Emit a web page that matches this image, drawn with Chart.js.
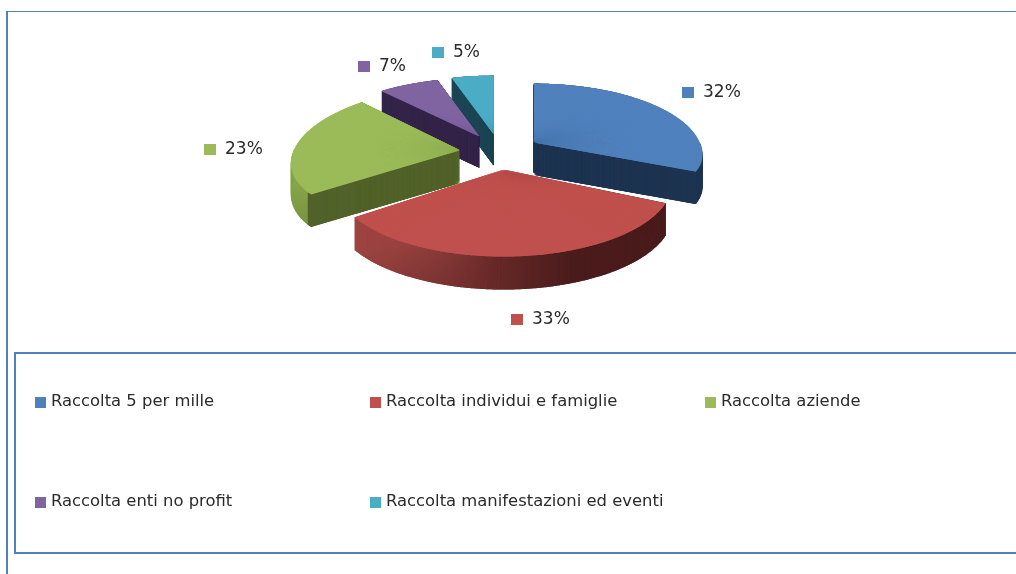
<!DOCTYPE html>
<html>
<head>
<meta charset="utf-8">
<title>Raccolta</title>
<script src="https://cdn.jsdelivr.net/npm/chart.js@4"></script>
<style>
    html, body { margin: 0; padding: 0; background: #fff; overflow: hidden; }
    #wrap { position: relative; width: 1016px; height: 574px; }
    #pie { position: absolute; left: 0; top: 0; }
    .frame { position: absolute; background: #4f81bd; }
</style>
</head>
<body>
<div id="wrap">
    <canvas id="pie" width="1016" height="574"></canvas>
    <div class="frame" style="left:6px;top:11px;width:2px;height:563px"></div>
    <div class="frame" style="left:6px;top:11px;width:1010px;height:1px"></div>
    <div class="frame" style="left:14px;top:352px;width:2px;height:202px"></div>
    <div class="frame" style="left:14px;top:352px;width:1002px;height:2px"></div>
    <div class="frame" style="left:14px;top:552px;width:1002px;height:2px"></div>
</div>
<script>
var categories = ['Raccolta 5 per mille', 'Raccolta individui e famiglie', 'Raccolta aziende', 'Raccolta enti no profit', 'Raccolta manifestazioni ed eventi'];
var values = [32, 33, 23, 7, 5];
var colors = ['#4f81bd', '#c0504d', '#9bbb59', '#8064a2', '#4bacc6'];
var edgeColors = ['#1f3552', '#4b1c1c', '#53632b', '#35264a', '#1c4654'];

//where the percent labels and legend entries sit on the page
var labelSpots = [[682, 92], [511, 319], [204, 149], [358, 66], [432, 52]];
var legendSpots = [[35, 402], [370, 402], [705, 402], [35, 502], [370, 502]];

//fake 3D look
var explode = 40, tilt = 0.44, drawOrder = [4, 3, 2, 0, 1];
var rearSquash = [14, 14, 9.6, 14, 14], frontSquash = [-12, 14, 3.4, 14, 14];
var STEP = Math.PI / 180;

function mix(a, b, t) {
    var out = '#';
    for (var i = 1; i < 7; i += 2) {
        var v = Math.round(parseInt(a.substr(i, 2), 16) * (1 - t) + parseInt(b.substr(i, 2), 16) * t);
        out += ('0' + v.toString(16)).slice(-2);
    }
    return out;
}

//side wall colour, depends on which way the wall faces
function wallColor(i, theta) {
    var s = Math.sin(theta);
    if (i === 1) return mix('#a04643', '#4b1c1c', Math.min(1, (s + 0.85) / 1.2));
    if (i === 2) return mix('#76933e', '#8fae50', Math.min(1, (theta - 4.08) / 0.9));
    return edgeColors[i];
}

function sliceTransform(ctx, el, i, theta, lift) {
    var mid = (el.startAngle + el.endAngle) / 2;
    var c = Math.cos(theta);
    var rx = 166 - 31 * c, ry = 73 - (c > 0 ? rearSquash[i] : frontSquash[i]) * c;
    ctx.translate(el.x + Math.cos(mid) * explode, el.y + Math.sin(mid) * explode * tilt + lift);
    ctx.scale(rx / el.outerRadius, ry / el.outerRadius);
}

function drawWedge(ctx, el, from, to, color) {
    var piece = new Chart.ArcElement({
        x: 0, y: 0, startAngle: from, endAngle: to, circumference: to - from,
        innerRadius: 0, outerRadius: el.outerRadius,
        options: { offset: 0, spacing: 0, circular: true, backgroundColor: color, borderColor: color,
            borderWidth: 0, borderAlign: 'center', borderRadius: 0, borderDash: [], borderDashOffset: 0, borderJoinStyle: 'round' }
    });
    piece.draw(ctx);
}

var pie3d = {
    id: 'pie3d',
    beforeDatasetsDraw: function (chart) {
        var ctx = chart.ctx, arcs = chart.getDatasetMeta(0).data;
        drawOrder.forEach(function (i) {
            var el = arcs[i], n = Math.ceil((el.endAngle - el.startAngle) / STEP);
            var size = (el.endAngle - el.startAngle) / n;
            var wide = Math.min(12 * STEP, el.endAngle - el.startAngle);
            //walls: inside of the wedge first, the two cut edges last
            var order = [];
            for (var k = 1; k < n - 1; k++) order.push(k);
            order.push(n - 1, 0);
            order.forEach(function (k) {
                var from = el.startAngle + k * size, theta = from + size / 2 + Math.PI / 2;
                var isEdge = k === 0 || k === n - 1;
                var col = (isEdge && i !== 1) ? edgeColors[i] : wallColor(i, theta);
                var depth = 32 - Math.cos(theta);
                for (var j = depth; j > 0; j -= isEdge ? 0.25 : 1) {
                    ctx.save();
                    sliceTransform(ctx, el, i, theta, j);
                    drawWedge(ctx, el, from, Math.min(from + size * 2, el.endAngle), col);
                    //near the tip the thin piece leaves gaps, a wider short one fills them
                    if (isEdge && i !== 1) {
                        ctx.scale(0.7, 0.7);
                        if (k === 0) drawWedge(ctx, el, el.startAngle, el.startAngle + wide, col);
                        else drawWedge(ctx, el, el.endAngle - wide, el.endAngle, col);
                    }
                    ctx.restore();
                }
            });
            //top face, each piece runs over the next one so no seams show
            for (var k = 0; k < n; k++) {
                var from = el.startAngle + k * size, theta = from + size / 2 + Math.PI / 2;
                ctx.save();
                sliceTransform(ctx, el, i, theta, 0);
                drawWedge(ctx, el, from, Math.min(from + size * 2, el.endAngle), colors[i]);
                ctx.restore();
            }
        });
        return false;
    },
    afterDraw: function (chart) {
        var ctx = chart.ctx;
        ctx.save();
        ctx.textBaseline = 'middle';
        values.forEach(function (v, i) {
            var p = labelSpots[i];
            ctx.fillStyle = colors[i];
            ctx.fillRect(p[0], p[1] - 5, 12, 11);
            ctx.fillStyle = '#2b2b2b';
            ctx.font = '17px "DejaVu Sans"';
            ctx.fillText(v + '%', p[0] + 21, p[1] + 1);
        });
        categories.forEach(function (name, i) {
            var p = legendSpots[i];
            ctx.fillStyle = colors[i];
            ctx.fillRect(p[0], p[1] - 5, 11, 11);
            ctx.fillStyle = '#2b2b2b';
            ctx.font = '16.4px "DejaVu Sans"';
            ctx.fillText(name, p[0] + 16, p[1]);
        });
        ctx.restore();
    }
};

new Chart(document.getElementById('pie'), {
    type: 'pie',
    data: {
        labels: categories,
        datasets: [{ data: values, backgroundColor: colors, borderWidth: 0 }]
    },
    options: {
        responsive: false,
        animation: false,
        layout: { padding: { left: 350, right: 366, top: 2, bottom: 272 } },
        plugins: { legend: { display: false }, tooltip: { enabled: false } }
    },
    plugins: [pie3d]
});
</script>
</body>
</html>
